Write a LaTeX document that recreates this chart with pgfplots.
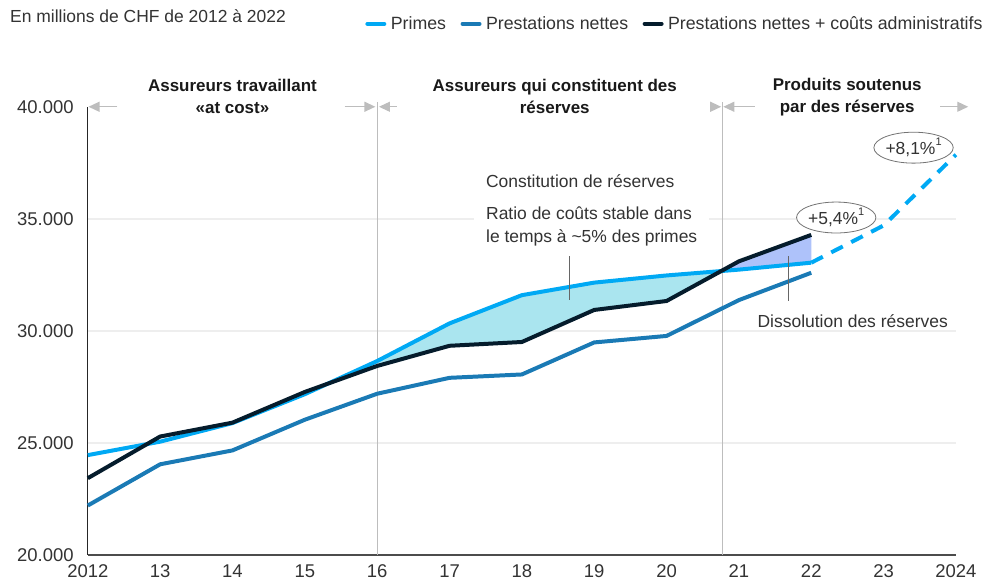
\documentclass[border=0pt]{standalone}
\usepackage{fontspec}
\setmainfont{Liberation Sans}
\usepackage{pgfplots}
\pgfplotsset{compat=1.18}
\usepgfplotslibrary{fillbetween}
\usetikzlibrary{arrows.meta,shapes.geometric}
\definecolor{primes}{HTML}{00A9F4}
\definecolor{prest}{HTML}{1A7AB5}
\definecolor{navy}{HTML}{051C2C}
\definecolor{cyanfill}{HTML}{AAE5EF}
\definecolor{lavfill}{HTML}{AEC2FA}
\definecolor{txt}{HTML}{333333}
\definecolor{sepc}{HTML}{BDBDBD}
\definecolor{gridc}{HTML}{EEEEEE}
\newcommand{\supnote}[1]{\raisebox{0.5em}{\fontsize{11bp}{11bp}\selectfont #1}}
\begin{document}
\begin{tikzpicture}[font=\fontsize{17.5bp}{21bp}\selectfont]
\begin{axis}[
 at={(88bp,25bp)}, anchor=south west, scale only axis, width=870bp, height=449bp,
 xmin=2012, xmax=2024, ymin=20000, ymax=40000,
 scaled y ticks=false, scaled x ticks=false,
 set layers, clip=false,
 axis x line*=bottom, axis y line*=left,
 x axis line style={draw=black!70, line width=1.8bp, -},
 y axis line style={draw=black!85, line width=1.3bp, -},
 major tick length=0,
 xtick={2012,2013,2014,2015,2016,2017,2018,2019,2020,2021,2022,2023,2024},
 xticklabels={2012,13,14,15,16,17,18,19,20,21,22,23,2024},
 ytick={20000,25000,30000,35000,40000},
 yticklabels={20.000,25.000,30.000,35.000,40.000},
 ticklabel style={text=txt, font=\fontsize{18.5bp}{21bp}\selectfont, inner sep=0pt},
 xticklabel style={yshift=-9.5bp},
 yticklabel style={xshift=-14bp},
 extra y ticks={25000,30000,35000},
 extra y tick labels={},
 extra y tick style={ymajorgrids=true, major grid style={gridc, line width=1.5bp}},
 legend style={at={(0.3195,1.185)}, anchor=west, draw=none, fill=none,
   legend columns=-1, inner sep=0pt, text=txt,
   font=\fontsize{17.8bp}{21bp}\selectfont,
   nodes={inner xsep=4.5bp, inner ysep=1bp},
   /tikz/every even column/.append style={column sep=10bp}},
 legend image code/.code={\draw[#1, line width=4bp, line cap=round, solid] (0bp,0bp) -- (17bp,0bp);},
]
% separators
\draw[sepc, line width=1bp] (axis cs:2016,20000) -- (axis cs:2016,40220);
\draw[sepc, line width=1bp] (axis cs:2020.77,20000) -- (axis cs:2020.77,40220);

\addplot[primes, line width=4bp, name path=P] coordinates {
 (2012,24450)(2013,25050)(2014,25880)(2015,27170)(2016,28650)(2017,30330)
 (2018,31590)(2019,32150)(2020,32470)(2021,32730)(2022,33040)};
\addlegendentry{Primes}
\addplot[prest, line width=4bp] coordinates {
 (2012,22200)(2013,24040)(2014,24660)(2015,26030)(2016,27190)(2017,27900)
 (2018,28050)(2019,29480)(2020,29770)(2021,31370)(2022,32590)};
\addlegendentry{Prestations nettes}
\addplot[navy, line width=4bp, name path=N] coordinates {
 (2012,23420)(2013,25280)(2014,25900)(2015,27270)(2016,28430)(2017,29330)
 (2018,29500)(2019,30930)(2020,31330)(2021,33100)(2022,34280)};
\addlegendentry{Prestations nettes + coûts administratifs}
\addplot[primes, line width=4bp, dash pattern=on 13bp off 9.5bp, forget plot] coordinates {
 (2022,33040)(2023,34700)(2024,37860)};

\addplot[cyanfill, forget plot] fill between[of=P and N, soft clip={domain=2015.6:2020.755}];
\addplot[lavfill, forget plot] fill between[of=P and N, soft clip={domain=2020.755:2022}];

% arrows
\tikzset{garrow/.style={sepc, line width=1.3bp, -{Triangle[length=11bp,width=10bp]}}}
\draw[garrow] (axis cs:2012.41,40000) -- (axis cs:2012.01,40000);
\draw[garrow] (axis cs:2015.55,40000) -- (axis cs:2015.975,40000);
\draw[garrow] (axis cs:2016.27,40000) -- (axis cs:2016.025,40000);
\draw[garrow] (axis cs:2020.62,40000) -- (axis cs:2020.755,40000);
\draw[garrow] (axis cs:2021.22,40000) -- (axis cs:2020.785,40000);
\draw[garrow] (axis cs:2023.78,40000) -- (axis cs:2024.17,40000);

% section titles
\node[font=\fontsize{17bp}{22bp}\selectfont\bfseries, align=center, text=black!90] at (axis cs:2014,40445) {Assureurs travaillant\\«at cost»};
\node[font=\fontsize{17bp}{22bp}\selectfont\bfseries, align=center, text=black!90] at (axis cs:2018.455,40445) {Assureurs qui constituent des\\réserves};
\node[font=\fontsize{17bp}{22bp}\selectfont\bfseries, align=center, text=black!90] at (axis cs:2022.497,40445) {Produits soutenus\\par des réserves};

% annotations
\node[anchor=west, text=txt, inner sep=0pt] at (axis cs:2017.503,36700) {Constitution de réserves};
\node[anchor=west, text=txt, fill=white, inner xsep=12bp, inner ysep=2bp, align=left, font=\fontsize{17.5bp}{23bp}\selectfont] at (axis cs:2017.338,34677) {Ratio de coûts stable dans\\le temps à \textasciitilde5\% des primes};
\draw[black!60, line width=1.2bp] (axis cs:2018.66,33320) -- (axis cs:2018.66,31360);
\draw[black!60, line width=1.2bp] (axis cs:2021.68,33320) -- (axis cs:2021.68,31310);
\node[anchor=west, text=txt, fill=white, inner xsep=12bp, inner ysep=2bp] at (axis cs:2021.09,30423) {Dissolution des réserves};
\node[ellipse, draw=black!55, line width=0.8bp, fill=white, minimum width=70bp, minimum height=31bp, inner sep=0pt, text=txt] at (axis cs:2022.345,35056) {+5,4\%\supnote{1}};
\node[ellipse, draw=black!55, line width=0.8bp, fill=white, minimum width=70bp, minimum height=31bp, inner sep=0pt, text=txt] at (axis cs:2023.414,38174) {+8,1\%\supnote{1}};
\end{axis}
\node[anchor=west, text=txt, inner sep=0pt] at (10bp,565bp) {En millions de CHF de 2012 à 2022};
\path[use as bounding box] (0,0) rectangle (987bp,581bp);
\end{tikzpicture}
\end{document}
